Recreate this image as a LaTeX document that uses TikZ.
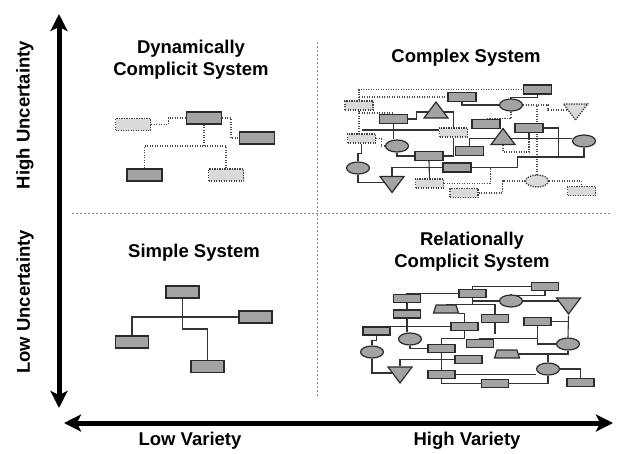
\documentclass[tikz,border=0pt]{standalone}
\usepackage{fontspec}
\setmainfont{Liberation Sans}
\usetikzlibrary{arrows.meta,shapes.geometric}
\pgfdeclarelayer{bg}
\pgfsetlayers{bg,main}
\definecolor{dfill}{HTML}{A3A3A3}
\definecolor{lfill}{HTML}{DADADA}
\definecolor{edge}{HTML}{2B2B2B}
\tikzset{
  dbox/.style={draw=edge,fill=dfill,line width=1.2,inner sep=0,minimum width=28,minimum height=9},
  lbox/.style={draw=black!75,fill=lfill,line width=1.3,dash pattern=on 1.3 off 1.2,inner sep=0,minimum width=28,minimum height=9},
  blob/.style={ellipse,draw=edge,fill=dfill,line width=1.2,inner sep=0,minimum width=23,minimum height=12},
  lblob/.style={blob,draw=black!75,fill=lfill,line width=1.3,dash pattern=on 1.3 off 1.2},
  triup/.style={isosceles triangle,isosceles triangle stretches,shape border rotate=90,draw=edge,fill=dfill,line width=1.2,inner sep=0,minimum width=24,minimum height=16},
  tridown/.style={triup,shape border rotate=-90},
  ltridown/.style={tridown,draw=black!75,fill=lfill,line width=1.3,dash pattern=on 1.3 off 1.2},
  trap/.style={trapezium,trapezium stretches body,trapezium angle=38,draw=edge,fill=dfill,line width=1.2,inner sep=1,minimum width=25,minimum height=8},
  wire/.style={draw=black!80,line width=1.1},
  dwire/.style={draw=black!70,line width=1.3,dash pattern=on 1.3 off 1.2},
  divider/.style={draw=black!45,line width=0.7,dash pattern=on 2 off 2},
  axisarrow/.style={line width=5,{Stealth[length=17,width=17,inset=4]}-{Stealth[length=17,width=17,inset=4]}},
  title/.style={font=\bfseries\fontsize{18.5}{22}\selectfont,align=center,inner sep=0}
}
\begin{document}
\begin{tikzpicture}[x=1pt,y=-1pt]
\useasboundingbox (0,0) rectangle (617,453);

% axes and quadrants
\coordinate (vtop) at (59,14);
\coordinate (vbot) at (59,408);
\coordinate (hleft) at (64,423);
\coordinate (hright) at (613,423);
\draw[axisarrow] (vbot) -- (vtop);
\draw[axisarrow] (hleft) -- (hright);
\coordinate (vd1) at (317,42);
\coordinate (vd2) at (317,397);
\coordinate (hd1) at (72,213);
\coordinate (hd2) at (612,213);
\draw[divider] (vd1) -- (vd2);
\draw[divider] (hd1) -- (hd2);

\node[title,rotate=90] (highu) at (25,115) {High Uncertainty};
\node[title,rotate=90] (lowu) at (25,302) {Low Uncertainty};
\node[title] (lowv) at (190,441) {Low Variety};
\node[title] (highv) at (467,441) {High Variety};

\node[title] (tdyn) at (191,60) {Dynamically\\Complicit System};
\node[title] (tcom) at (466,58) {Complex System};
\node[title] (tsim) at (194,253) {Simple System};
\node[title] (trel) at (472,252) {Relationally\\Complicit System};

% dynamically complicit system
\begin{scope}[dbox/.append style={minimum width=35,minimum height=12},lbox/.append style={minimum width=35,minimum height=12}]
\node[lbox] (d1) at (133,124.5) {};
\node[dbox] (d2) at (204,118) {};
\node[dbox] (d3) at (257,138) {};
\node[dbox] (d4) at (144.5,175) {};
\node[lbox] (d5) at (226,175) {};
\end{scope}
\draw[dwire] (d1.east) -- ++(17,0) |- (d2.west);
\draw[dwire] (d2.east) -- ++(9,0) |- (d3.west);
\draw[dwire] (d2.south) -- (d2.south |- 0,146);
\draw[dwire] (d4.north) |- (d5.north |- 0,146) -- (d5.north);

% simple system
\begin{scope}[dbox/.append style={minimum width=33,minimum height=12}]
\node[dbox] (s1) at (182.5,292) {};
\node[dbox] (s2) at (255.5,317) {};
\node[dbox] (s3) at (132,342) {};
\node[dbox] (s4) at (207.5,366.5) {};
\end{scope}
\draw[wire] (s1.south) -- (s1.south |- 0,329) -| (s4.north);
\draw[wire] (s3.north) |- (s2.west);

% complex system
\node[lbox] (ca) at (359,105.5) {};
\node[dbox] (cb) at (462,97) {};
\node[dbox] (cc) at (393.5,119) {};
\node[triup] (cd) at (436,112) {};
\node[lbox] (ce) at (453.5,132.5) {};
\node[lbox] (cf) at (361.5,138.5) {};
\node[blob] (cg) at (397,146) {};
\node[dbox] (ch) at (429,156) {};
\node[blob] (ci) at (358,168) {};
\node[dbox] (cj) at (457,167.5) {};
\node[tridown] (ck) at (392,182.5) {};
\node[lbox] (cl) at (429.5,183.5) {};
\node[lbox] (cm) at (464,193) {};
\node[dbox] (cn) at (486,124) {};
\node[dbox] (co) at (469.5,151) {};
\node[dbox] (cp) at (537.5,89.5) {};
\node[blob] (cq) at (511,105) {};
\node[ltridown] (cr) at (575.5,110) {};
\node[dbox] (cs) at (529,128) {};
\node[triup] (ct) at (503,138.5) {};
\node[blob] (cu) at (584,141) {};
\node[lblob] (cv) at (537,181) {};
\node[lbox] (cw) at (581.5,191) {};
\begin{pgfonlayer}{bg}
\draw[dwire] (ca.north) |- (cp.west);
\draw[dwire] (ca.north |- cb.west) -- (cb.west);
\draw[dwire] (ca.south) -- (ca.south |- cf.north);
\draw[dwire] (ca.south |- 0,113) -| (cc.north);
\draw[dwire] (cf.east) -- ++(5,0) |- (cg.west);
\draw[dwire] (cl.east) -- ++(46,0) |- (cj.east);
\draw[dwire] (cm.east) -- ++(24,0) |- (cv.west);
\draw[dwire] (cq.east) -| (cv.north);
\draw[dwire] (cq.east) -- ++(25,0) |- (cr.center);
\draw[dwire] (cv.east) -| (cw.north);
\draw[dwire] (ct.south) -- ++(0,7) -| (cs.south);
\draw[dwire] (cq.south) -- ++(0,7) -| (cn.north);
\draw[wire] (cb.south) |- (cq.west);
\draw[wire] (cp.south) -- ++(0,3) -| (cq.north);
\draw[wire] (cc.east) -- ++(8,0) |- (cd.center);
\draw[wire] (cd.center) -| (ce.north);
\draw[wire] (cc.south) -- (cc.south |- cg.north);
\draw[wire] (cg.south) |- (ch.west);
\draw[wire] (cf.south) -- ++(0,10) -| (ci.north);
\draw[wire] (ci.south) |- (ck.center);
\draw[wire] (ck.north) |- (cj.west);
\draw[wire] (ch.south) -- (cl.north);
\draw[wire] (ce.south) |- (ch.east);
\draw[wire] (cf.north |- 0,130) -- (ce.west |- 0,130);
\draw[wire] (co.north) |- (ct.center);
\draw[wire] (ct.center) -- (ct.center -| cu.west);
\draw[wire] (cs.south) -- (cs.south |- ct.center);
\draw[wire] (cs.east) -- ++(15,0) -- ++(0,29) -- ++(-41,0) |- (cj.east);
\draw[wire] (cs.east) ++(15,29) -| (cu.south);
\end{pgfonlayer}

% relationally complicit system
\begin{scope}[dbox/.append style={minimum width=27,minimum height=8}]
\node[dbox] (ra) at (407,298.5) {};
\node[dbox] (rb) at (407,314) {};
\node[dbox] (rc) at (376.5,331) {};
\node[blob] (rd) at (410,339) {};
\node[blob] (re) at (372,352) {};
\node[tridown] (rf) at (400,373) {};
\node[trap] (rg) at (446,309) {};
\node[dbox] (rh) at (464.5,326.5) {};
\node[dbox] (ri) at (441.5,348.5) {};
\node[dbox] (rj) at (441.5,374.5) {};
\node[dbox] (rk) at (472.5,293.5) {};
\node[dbox] (rl) at (480,343.5) {};
\node[dbox] (rm) at (468.5,359.5) {};
\node[dbox] (rn) at (545,286.5) {};
\node[blob] (ro) at (511,301) {};
\node[tridown] (rp) at (568.5,304) {};
\node[dbox] (rq) at (495,318.5) {};
\node[dbox] (rr) at (537.5,321.5) {};
\node[blob] (rs) at (568,344) {};
\node[trap] (rt) at (507,354) {};
\node[blob] (ru) at (548,369) {};
\node[dbox] (rv) at (495,383.5) {};
\node[dbox] (rw) at (580.5,382.5) {};
\end{scope}
\begin{pgfonlayer}{bg}
\draw[wire] (ra.north) |- (rk.west);
\draw[wire] (ra.south) -- (rb.north);
\draw[wire] (rb.south) -- (rb.south |- rd.north);
\draw[wire] (rc.north) |- (rh.west);
\draw[wire] (rc.south) -- ++(0,5) -| (re.north);
\draw[wire] (re.south) |- (rf.center);
\draw[wire] (rf.north) |- (rm.west);
\draw[wire] (rd.south) |- (ri.west);
\draw[wire] (rk.north) |- (rn.west);
\draw[wire] (rn.south) -- ++(0,4) -| (ro.north);
\draw[wire] (ro.east) -- (ro.east -| rp.center);
\draw[wire] (rk.south) |- (ro.west);
\draw[wire] (rk.south) |- (rg.north);
\draw[wire] (rg.north -| rk.south) -| (rq.north);
\draw[wire] (rg.bottom right corner) -| (rh.north);
\draw[wire] (rr.south) |- (rs.west);
\draw[wire] (rr.south) -- ++(0,12) -| (rl.north);
\draw[wire] (rq.south) -- ++(0,11);
\draw[wire] (rh.south) -- ++(0,7) -| (ri.north);
\draw[wire] (ri.south) -- (rj.north);
\draw[wire] (rr.east) -| (rp.south);
\draw[wire] (rp.south) -- (rs.north);
\draw[wire] (rs.south) |- (rt.east);
\draw[wire] (ru.north) -- (ru.north |- rt.east);
\draw[wire] (ru.east) -| (rw.north);
\draw[wire] (ru.south) |- (rv.east);
\draw[wire] (rj.east) -- (rj.east -| ru.west);
\draw[wire] (rj.south) |- (rv.west);
\end{pgfonlayer}
\end{tikzpicture}
\end{document}
